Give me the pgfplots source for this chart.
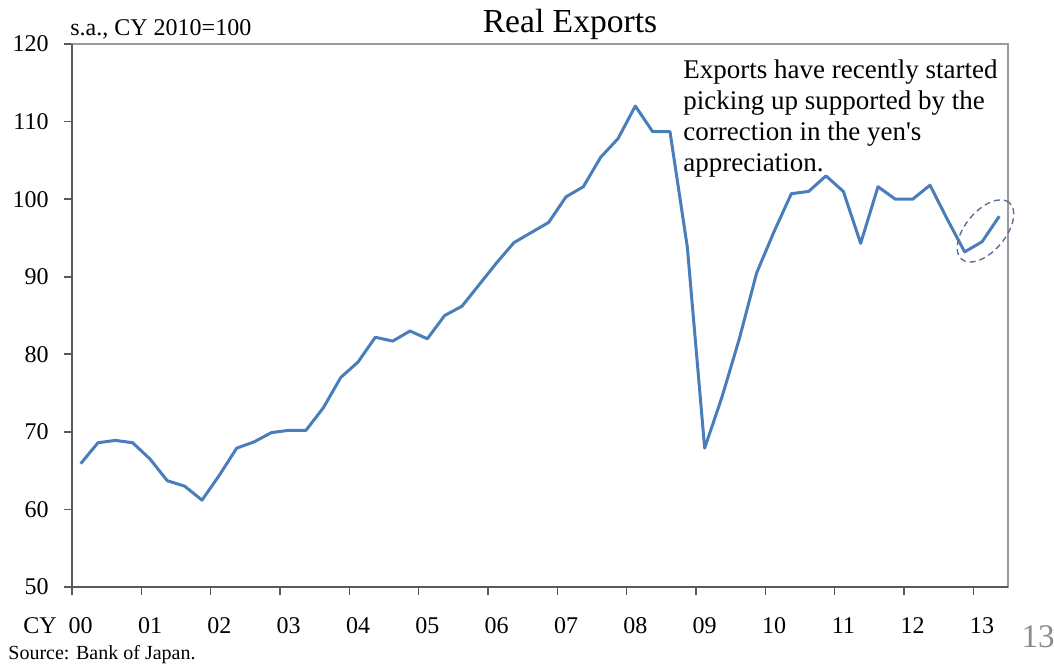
\documentclass[border=0pt]{standalone}
\usepackage{fontspec}
\setmainfont{Liberation Serif}
\usepackage{pgfplots}
\pgfplotsset{compat=1.18}
\usetikzlibrary{shapes.geometric}
\definecolor{lineblue}{HTML}{4A7EBB}
\definecolor{ellblue}{HTML}{5A7099}
\definecolor{axdark}{HTML}{5A5A5A}
\definecolor{axlight}{HTML}{9A9A9A}
\definecolor{pagegray}{HTML}{8C8C8C}

\pgfplotstableread{
q val
0 65.9
1 68.6
2 68.9
3 68.6
4 66.5
5 63.7
6 63.0
7 61.2
8 64.4
9 67.9
10 68.7
11 69.9
12 70.2
13 70.2
14 73.1
15 77.0
16 79.0
17 82.2
18 81.7
19 83.0
20 82.0
21 85.0
22 86.2
23 89.0
24 91.8
25 94.4
26 95.7
27 97.0
28 100.3
29 101.6
30 105.4
31 107.8
32 112.0
33 108.7
34 108.7
35 93.8
36 67.9
37 74.5
38 82.0
39 90.5
40 95.8
41 100.7
42 101.0
43 103.0
44 101.0
45 94.3
46 101.6
47 100.0
48 100.0
49 101.8
50 97.4
51 93.2
52 94.5
53 97.8
}\exports

\begin{document}
\begin{tikzpicture}[x=1pt,y=1pt]
\path[use as bounding box] (0,0) rectangle (527,332.5);
\begin{axis}[
  at={(36pt,39pt)}, anchor=south west,
  scale only axis, width=468pt, height=271.5pt,
  xmin=-0.5, xmax=53.5, ymin=50, ymax=120,
  axis line style={axlight, line width=0.8pt},
  tick pos=left,
  tick align=outside,
  major tick length=4pt,
  tick style={axdark, line width=0.8pt},
  xtick={-0.5,3.5,...,51.5}, xticklabels={},
  extra x ticks={0,4,...,52},
  extra x tick labels={00,01,02,03,04,05,06,07,08,09,10,11,12,13},
  extra x tick style={major tick length=0pt},
  ytick={50,60,...,120},
  /pgf/number format/assume math mode=true,
  tick label style={font=\fontsize{12}{14}\selectfont, black},
  xticklabel style={anchor=base, yshift=-23pt},
  yticklabel style={anchor=east, inner xsep=0pt, xshift=-7.5pt},
  clip=false,
]
\addplot[lineblue, line width=1.5pt, line join=round, mark=none] table[x=q, y=val] {\exports};
\draw[axdark, line width=1pt] (rel axis cs:0,1) -- (rel axis cs:0,0) -- (rel axis cs:1,0);
\node[draw=ellblue, dashed, dash pattern=on 3pt off 2pt, line width=0.7pt, ellipse,
      minimum width=37pt, minimum height=20pt, inner sep=0pt, rotate=50]
      at (axis cs:52.2,95.9) {};
\end{axis}
% texts
\node[anchor=base west, font=\fontsize{12}{14}\selectfont, inner sep=0pt] at (35,314.5) {s.a., CY 2010=100};
\node[anchor=base, font=\fontsize{16.8}{20}\selectfont, inner sep=0pt] at (285,316) {Real Exports};
\begin{scope}[every node/.style={anchor=base west, font=\fontsize{13.5}{16}\selectfont, inner sep=0pt}]
\node at (341.5,293) {Exports have recently started};
\node at (341.5,277.5) {picking up supported by the};
\node at (341.5,262) {correction in the yen\textquotesingle s};
\node at (341.5,246.5) {appreciation.};
\end{scope}
\node[anchor=base west, font=\fontsize{12}{14}\selectfont, inner sep=0pt] at (11.5,16) {CY};
\node[anchor=base west, font=\fontsize{10}{12}\selectfont, inner sep=0pt] at (4,3) {Source: Bank of Japan.};
\node[anchor=center, font=\fontsize{16.5}{19}\selectfont, text=pagegray, inner sep=0pt] at (519,14) {13};
\end{tikzpicture}
\end{document}
